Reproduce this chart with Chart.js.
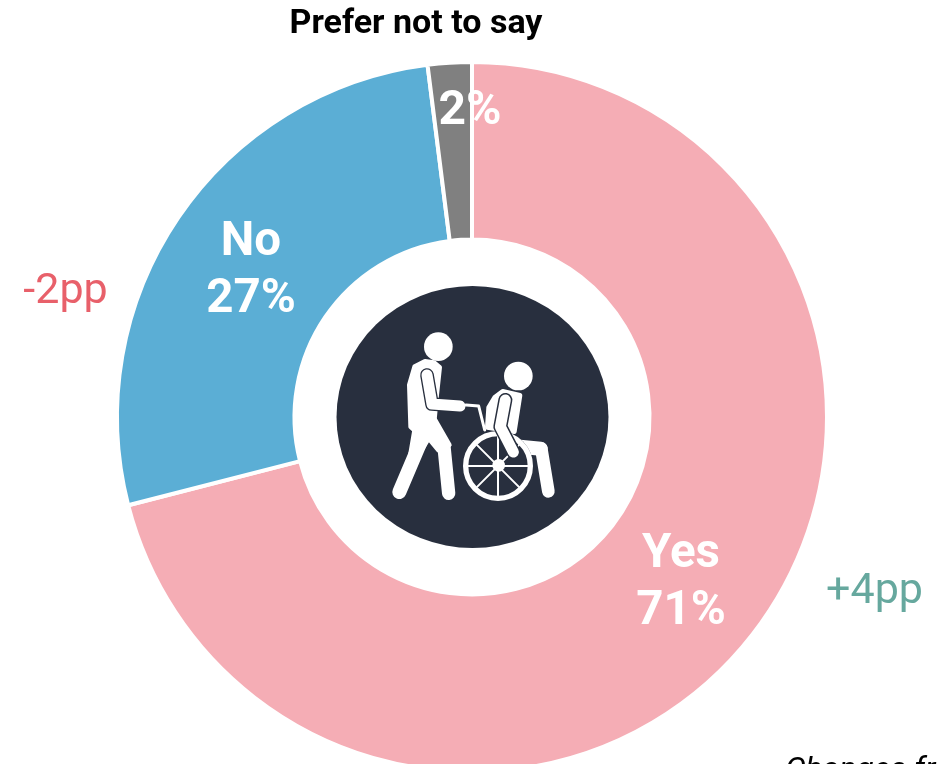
<!DOCTYPE html>
<html>
<head>
<meta charset="utf-8">
<title>Prefer not to say</title>
<style>
  html, body { margin: 0; padding: 0; background: #fff; overflow: hidden; }
  #wrap { position: relative; width: 938px; height: 764px; overflow: hidden; }
  #myChart { position: absolute; left: 0; top: 0; }
</style>
<script src="https://cdn.jsdelivr.net/npm/chart.js@4"></script>
</head>
<body>
<div id="wrap"><canvas id="myChart" width="938" height="834"></canvas></div>
<script>
'use strict';
const categories = ['Yes', 'No', 'Prefer not to say'];
const shares = [71, 27, 2];
const sliceColors = ['#f5adb5', '#5baed5', '#808080'];
const changeLabels = ['+4pp', '-2pp'];
const footNote = 'Changes fr';

const labelFont = '"Roboto", "Liberation Sans", sans-serif';

function putText(ctx, text, x, y, font, color, align) {
    ctx.font = font + ' ' + labelFont;
    ctx.fillStyle = color;
    ctx.textAlign = align || 'center';
    ctx.textBaseline = 'middle';
    ctx.fillText(text, x, y);
}

function fillShape(ctx, pts) {
    ctx.beginPath();
    ctx.moveTo(pts[0][0], pts[0][1]);
    for (let i = 1; i < pts.length; i++) {
        ctx.lineTo(pts[i][0], pts[i][1]);
    }
    ctx.closePath();
    ctx.fill();
    ctx.stroke();
}

function strokeLine(ctx, pts, width, color) {
    ctx.beginPath();
    ctx.moveTo(pts[0][0], pts[0][1]);
    for (let i = 1; i < pts.length; i++) {
        ctx.lineTo(pts[i][0], pts[i][1]);
    }
    ctx.lineWidth = width;
    ctx.strokeStyle = color;
    ctx.stroke();
}

function dot(ctx, x, y, r) {
    ctx.beginPath();
    ctx.arc(x, y, r, 0, Math.PI * 2);
    ctx.fill();
}

// carer pushing a wheelchair, on a dark disc in the doughnut hole
function drawIcon(ctx, cx, cy) {
    const navy = '#282f3e';
    ctx.save();
    ctx.fillStyle = navy;
    ctx.beginPath();
    ctx.ellipse(cx + 0.5, cy, 136, 131, 0, 0, Math.PI * 2);
    ctx.fill();

    ctx.translate(cx - 92, cy - 97);
    ctx.scale(1 / 3, 1 / 3);
    ctx.lineJoin = 'round';
    ctx.lineCap = 'round';
    ctx.fillStyle = '#fff';
    ctx.strokeStyle = '#fff';
    ctx.lineWidth = 14;

    // carer
    dot(ctx, 175, 80, 43);
    fillShape(ctx, [[135, 124], [104, 140], [88, 195], [92, 320], [106, 333], [163, 300], [170, 225], [179, 142], [162, 128]]);
    fillShape(ctx, [[104, 330], [165, 300], [208, 375], [175, 390], [146, 355], [112, 410], [92, 400]]);
    strokeLine(ctx, [[58, 516], [122, 365]], 42, '#fff');
    strokeLine(ctx, [[206, 520], [192, 380]], 40, '#fff');
    strokeLine(ctx, [[141, 165], [156, 252], [236, 258]], 41, navy);
    strokeLine(ctx, [[141, 165], [156, 252], [240, 258]], 33, '#fff');

    // chair handle
    strokeLine(ctx, [[258, 255], [296, 258], [314, 330]], 9, '#fff');

    // passenger body and legs, under the wheel
    dot(ctx, 415, 168, 43);
    ctx.lineWidth = 14;
    fillShape(ctx, [[368, 214], [344, 232], [326, 262], [322, 322], [403, 335], [410, 290], [420, 226]]);
    strokeLine(ctx, [[420, 380], [482, 386]], 42, '#fff');
    strokeLine(ctx, [[484, 386], [505, 514]], 38, '#fff');

    // wheel
    ctx.beginPath();
    ctx.arc(354, 438, 105, 0, Math.PI * 2);
    ctx.fillStyle = navy;
    ctx.fill();
    ctx.fillStyle = '#fff';
    ctx.beginPath();
    ctx.arc(354, 438, 97, 0, Math.PI * 2);
    ctx.lineWidth = 16;
    ctx.strokeStyle = '#fff';
    ctx.stroke();
    for (let k = 0; k < 4; k++) {
        const a = k * Math.PI / 4;
        const dx = Math.cos(a) * 94, dy = Math.sin(a) * 94;
        strokeLine(ctx, [[354 - dx, 438 - dy], [354 + dx, 438 + dy]], 6, '#fff');
    }
    dot(ctx, 356, 436, 19);

    // passenger arm, in front of the wheel
    strokeLine(ctx, [[376, 240], [361, 320], [400, 396]], 42, navy);
    strokeLine(ctx, [[376, 240], [361, 320], [400, 396]], 33, '#fff');
    ctx.restore();
}

const textPlugin = {
    id: 'textPlugin',
    afterDraw(chart) {
        const ctx = chart.ctx;
        const arc = chart.getDatasetMeta(0).data[0];
        const white = '#ffffff';

        drawIcon(ctx, arc.x, arc.y);

        putText(ctx, categories[2], 416, 24, 'bold 34px', '#000000');
        putText(ctx, shares[2] + '%', 470, 112, 'bold 48px', white);
        putText(ctx, categories[1], 251, 243, 'bold 47.5px', white);
        putText(ctx, shares[1] + '%', 251, 300, 'bold 47.5px', white);
        putText(ctx, categories[0], 681, 555, 'bold 47.5px', white);
        putText(ctx, shares[0] + '%', 681, 612, 'bold 47.5px', white);

        putText(ctx, changeLabels[1], 65.5, 292, '43px', '#e8606a');
        putText(ctx, changeLabels[0], 874.5, 592, '43px', '#66a89e');

        putText(ctx, footNote, 785, 771, 'italic 32px', '#000000', 'left');
    }
};

new Chart(document.getElementById('myChart').getContext('2d'), {
    type: 'doughnut',
    data: {
        labels: categories,
        datasets: [{
            data: shares,
            backgroundColor: sliceColors,
            borderColor: '#ffffff',
            borderWidth: 4
        }]
    },
    options: {
        responsive: false,
        animation: false,
        cutout: '50%',
        layout: { padding: { top: 60, bottom: 60, left: 115, right: 109 } },
        plugins: { legend: { display: false }, tooltip: { enabled: false } }
    },
    plugins: [textPlugin]
});
</script>
</body>
</html>
